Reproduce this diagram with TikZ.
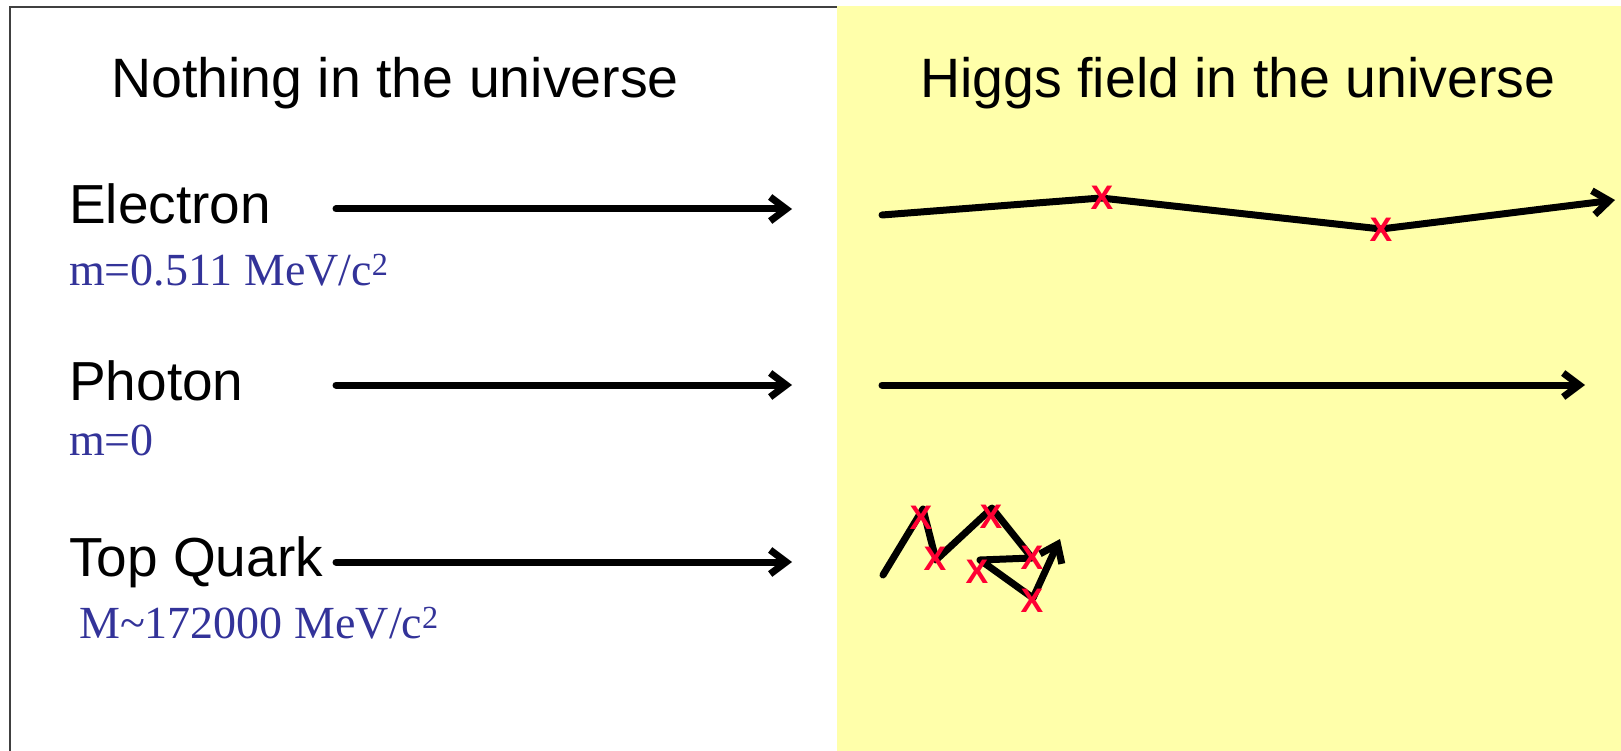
\documentclass[tikz,border=0pt]{standalone}
\usepackage{fontspec}
\setmainfont{Liberation Serif}
\setsansfont{Liberation Sans}
\usetikzlibrary{arrows.meta}
\definecolor{higgsyellow}{RGB}{255,255,170}
\definecolor{massblue}{RGB}{51,51,153}
\definecolor{hitred}{RGB}{255,0,51}

\begin{document}
\begin{tikzpicture}[x=1pt, y=-1pt,
  title/.style={anchor=base west, inner sep=0pt, font=\sffamily\fontsize{55.5}{60}\selectfont},
  particle/.style={anchor=base west, inner sep=0pt, font=\sffamily\fontsize{55}{60}\selectfont},
  mass/.style={anchor=base west, inner sep=0pt, text=massblue, font=\rmfamily\fontsize{46}{52}\selectfont},
  hit/.style={inner sep=0pt, text=hitred, font=\sffamily\bfseries\fontsize{34}{36}\selectfont},
  arr/.style={-{Straight Barb[length=16pt,width=24pt]}, line width=7pt, line cap=round, line join=round}]
\useasboundingbox (0,0) rectangle (1621,751);
% two halves
\draw[line width=1.5pt, black!75] (838,7) -- (10,7) -- (10,751);
\fill[higgsyellow] (837,6) rectangle (1621,751);
\node[title] (empty) at (111,98) {Nothing in the universe};
\node[title] (higgs) at (920,98) {Higgs field in the universe};
% particles
\node[particle] (electron) at (69,224) {Electron};
\node[mass] (melectron) at (69,285) {m=0.511 MeV/c\textsuperscript{2}};
\node[particle] (photon) at (69,400) {Photon};
\node[mass] (mphoton) at (69,455) {m=0};
\node[particle] (top) at (69,576) {Top Quark};
\node[mass] (mtop) at (79,638) {M\textasciitilde172000 MeV/c\textsuperscript{2}};
% free motion
\coordinate (eA) at (336,209);
\coordinate (eB) at (792,209);
\coordinate (pA) at (336,385);
\coordinate (pB) at (792,385);
\coordinate (tA) at (336,562);
\coordinate (tB) at (792,562);
\draw[arr] (eA) -- (eB);
\draw[arr] (pA) -- (pB);
\draw[arr] (tA) -- (tB);
% motion in the Higgs field
\coordinate (e0) at (882,215);
\coordinate (e1) at (1101,198);
\coordinate (e2) at (1381,229);
\coordinate (e3) at (1615,200);
\draw[arr] (e0) -- (e1) -- (e2) -- (e3);
\node[hit] (he1) at (1102,198) {X};
\node[hit] (he2) at (1381,230) {X};
\coordinate (p0) at (882,385);
\coordinate (p1) at (1585,385);
\draw[arr] (p0) -- (p1);
\coordinate (t0) at (883,575);
\coordinate (t1) at (923,509);
\coordinate (t2) at (936,560);
\coordinate (t3) at (992,508);
\coordinate (t4) at (1032,558);
\coordinate (t5) at (980,560);
\coordinate (t6) at (1033,598);
\coordinate (t7) at (1060,539);
\draw[arr] (t0) -- (t1) -- (t2) -- (t3) -- (t4) -- (t5) -- (t6) -- (t7);
\node[hit] (ht1) at (921,518) {X};
\node[hit] (ht2) at (935,559) {X};
\node[hit] (ht3) at (991,517) {X};
\node[hit] (ht4) at (1032,558) {X};
\node[hit] (ht5) at (977,572) {X};
\node[hit] (ht6) at (1032,601) {X};
\end{tikzpicture}
\end{document}
